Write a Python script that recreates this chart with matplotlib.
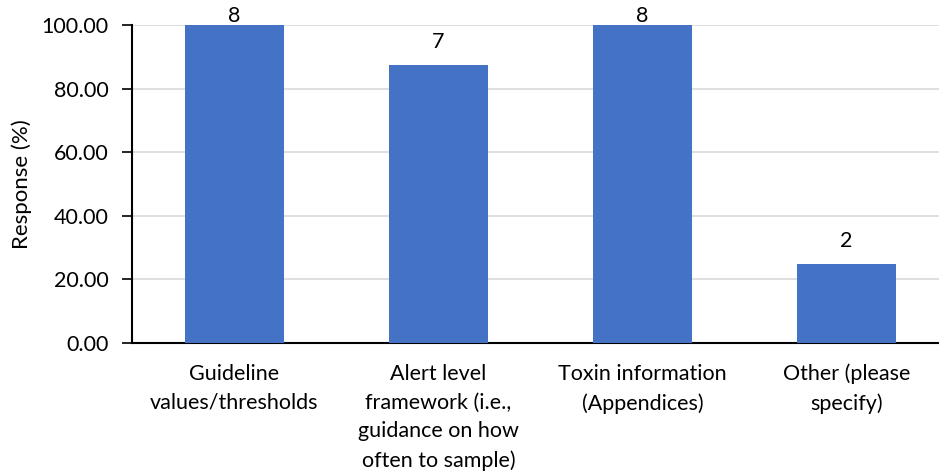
import matplotlib
matplotlib.use("Agg")
import matplotlib.pyplot as plt

plt.rcParams['font.family'] = ['Lato', 'DejaVu Sans']

categories = [
    "Guideline\nvalues/thresholds",
    "Alert level\nframework (i.e.,\nguidance on how\noften to sample)",
    "Toxin information\n(Appendices)",
    "Other (please\nspecify)",
]
response_pct = [100.0, 87.5, 100.0, 25.0]
counts = [8, 7, 8, 2]
y_ticks = [0, 20, 40, 60, 80, 100]

FS = 15.5

fig = plt.figure(figsize=(9.39, 4.76), dpi=100)
ax = fig.add_axes([0.1411, 0.2794, 0.869, 0.668])

x = list(range(len(categories)))
bars = ax.bar(x, response_pct, width=0.485, color="#4472C4", zorder=3)

ax.set_xlim(-0.5, len(categories) - 0.5)
ax.set_ylim(0, 100)

# data labels sit above each bar, but are pushed down so they stay inside the figure
fig_h = fig.bbox.height
gap_px = 17
top_limit_px = fig_h - 22
for xi, v, c in zip(x, response_pct, counts):
    bar_top = ax.transData.transform((xi, v))[1]
    off_px = min(gap_px, top_limit_px - bar_top)
    ax.annotate(str(c), (xi, v), xytext=(0, off_px * 72 / fig.dpi),
                textcoords="offset points", ha="center", va="baseline",
                fontsize=FS, color="#000000", annotation_clip=False)

ax.set_yticks(y_ticks)
ax.set_yticklabels([f"{t:.2f}" for t in y_ticks], fontsize=FS)
ax.set_xticks(x)
ax.set_xticklabels(categories, fontsize=FS, linespacing=1.55, va="top")
ax.tick_params(axis="x", length=0, pad=15)
ax.tick_params(axis="y", length=7, width=1.2, direction="out", pad=10)

ax.yaxis.grid(True, color="#D9D9D9", linewidth=1.2, zorder=0)
ax.set_axisbelow(True)
for side in ("top", "right"):
    ax.spines[side].set_visible(False)
ax.spines["left"].set_linewidth(1.5)
ax.spines["bottom"].set_linewidth(1.5)
ax.set_ylabel("Response (%)", fontsize=16)
ax.yaxis.set_label_coords(-0.123, 0.5)

fig.savefig("out.png", dpi=100)
